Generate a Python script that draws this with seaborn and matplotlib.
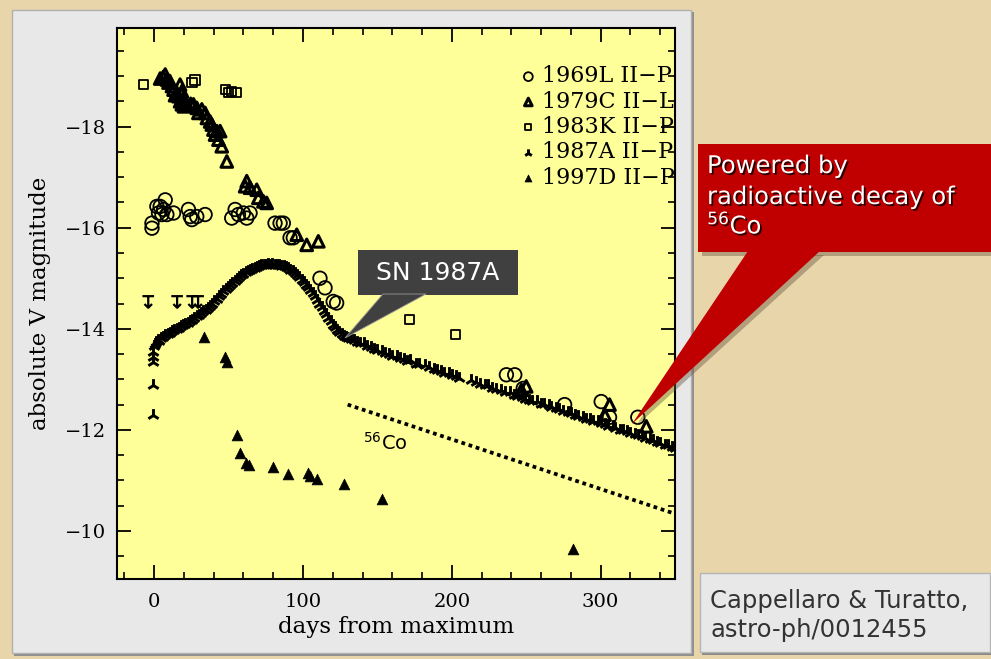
import matplotlib
matplotlib.use("Agg")
import matplotlib.pyplot as plt
import matplotlib.patheffects as pe
from matplotlib.patches import Rectangle, Polygon
from matplotlib.path import Path
from matplotlib.markers import MarkerStyle
from matplotlib.ticker import MultipleLocator
import seaborn as sns

# ---- light curves: days from maximum, absolute V magnitude ----
sn1969l_days = [-1.5, -1.5, 1.8, 4.0, 6.3, 7.4, 2.9, 5.2, 8.5, 13.0, 23.0, 24.2, 25.3, 28.6,
                34.2, 52.1, 54.4, 56.6, 59.9, 62.2, 64.4, 81.2, 84.6, 86.8, 91.3, 93.5,
                111.4, 114.8, 120.3, 122.6, 236.7, 242.3, 248.0, 275.8, 300.4, 306.0, 325.0]
sn1969l_mag = [-16.09, -15.99, -16.42, -16.42, -16.36, -16.55, -16.29, -16.26, -16.26, -16.29,
               -16.36, -16.22, -16.16, -16.22, -16.26, -16.19, -16.36, -16.26, -16.29, -16.19,
               -16.29, -16.09, -16.09, -16.09, -15.80, -15.80, -15.00, -14.81, -14.54, -14.51,
               -13.09, -13.09, -12.82, -12.50, -12.56, -12.25, -12.25]

sn1979c_days = [4.0, 6.0, 7.4, 8.5, 9.6, 10.5, 11.9, 13.0, 14.0, 15.2, 16.3, 17.4, 17.4, 18.6,
                18.6, 19.5, 20.0, 21.0, 22.5, 24.5, 26.4, 28.6, 29.7, 32.0, 34.2, 35.4, 37.6,
                38.7, 39.8, 40.9, 42.1, 43.2, 44.3, 45.4, 48.8, 61.1, 62.2, 64.4, 68.9, 70.0,
                73.4, 75.6, 95.8, 102.5, 110.3, 246.8, 250.0, 302.7, 306.0, 330.7]
sn1979c_mag = [-18.95, -18.98, -19.03, -18.93, -18.87, -18.90, -18.80, -18.73, -18.62, -18.67,
               -18.60, -18.83, -18.50, -18.70, -18.44, -18.55, -18.40, -18.45, -18.42, -18.45,
               -18.44, -18.37, -18.27, -18.34, -18.27, -18.17, -18.10, -18.04, -17.94, -17.84,
               -17.91, -17.74, -17.91, -17.61, -17.31, -16.82, -16.92, -16.79, -16.75, -16.59,
               -16.52, -16.49, -15.86, -15.66, -15.73, -12.79, -12.86, -12.30, -12.50, -12.07]

sn1983k_days = [-7.2, 25.3, 27.5, 47.7, 49.9, 52.1, 55.0, 171.8, 202.7]
sn1983k_mag = [-18.83, -18.87, -18.92, -18.73, -18.67, -18.70, -18.67, -14.18, -13.88]

sn1987a_days = [-1.0, -1.0, -0.8, -1.0, -0.5, 0.0, 0.8, 1.5, 2.5, 3.5, 4.5, 6.0, 7.5, 9.0,
                10.5, 12.0, 13.5, 15.0, 16.5, 18.0, 19.5, 21.0, 22.5, 24.0, 25.5, 27.0, 28.5,
                30.0, 31.5, 33.0, 34.5, 36.0, 37.5, 39.0, 40.5, 42.0, 43.5, 45.0, 46.5, 48.0,
                49.5, 51.0, 52.5, 54.0, 55.5, 57.0, 58.5, 60.0, 61.5, 63.0, 64.5, 66.0, 67.5,
                69.0, 70.5, 72.0, 73.5, 75.0, 76.5, 78.0, 79.5, 81.0, 82.5, 84.0, 85.5, 87.0,
                88.5, 90.0, 91.5, 93.0, 94.5, 96.0, 97.5, 99.0, 100.5, 102.0, 103.5, 105.0,
                106.5, 108.0, 109.5, 111.0, 112.5, 114.0, 115.5, 117.0, 118.5, 120.0, 121.5,
                123.0, 124.5, 126.0, 127.5, 129.0, 130.5, 132.0,
                134, 136, 138, 141, 143, 146, 148, 150, 153, 155, 158, 160, 163, 165, 168, 170,
                172, 176, 178, 182, 185, 188, 190, 193, 195, 198, 200, 203, 205, 213, 216, 219,
                222, 224, 227, 230, 233, 236, 239, 242, 244, 247, 249, 252, 254, 257, 260, 262,
                265, 267, 270, 272, 275, 278, 280, 283, 285, 288, 290, 293, 295, 298, 300, 303,
                305, 308, 310, 313, 315, 318, 320, 323, 325, 328, 330, 333, 335, 338, 340, 343,
                345, 348, 350]
sn1987a_mag = [-12.30, -12.89, -13.35, -13.45, -13.55, -13.65, -13.70, -13.74, -13.78, -13.76,
               -13.82, -13.84, -13.87, -13.90, -13.92, -13.95, -13.97, -14.00, -14.02, -14.05,
               -14.08, -14.10, -14.12, -14.16, -14.18, -14.22, -14.25, -14.28, -14.31, -14.35,
               -14.38, -14.42, -14.46, -14.50, -14.55, -14.59, -14.64, -14.68, -14.74, -14.78,
               -14.83, -14.87, -14.91, -14.95, -14.99, -15.03, -15.06, -15.09, -15.12, -15.14,
               -15.17, -15.19, -15.20, -15.22, -15.24, -15.26, -15.27, -15.26, -15.28, -15.27,
               -15.28, -15.27, -15.26, -15.26, -15.25, -15.24, -15.22, -15.20, -15.17, -15.14,
               -15.10, -15.06, -15.02, -14.97, -14.92, -14.87, -14.82, -14.76, -14.70, -14.64,
               -14.57, -14.50, -14.43, -14.36, -14.29, -14.22, -14.15, -14.08, -14.03, -13.97,
               -13.93, -13.89, -13.86, -13.84, -13.82, -13.80,
               -13.78, -13.74, -13.72, -13.71, -13.66, -13.64, -13.60, -13.59, -13.57, -13.52,
               -13.50, -13.47, -13.46, -13.42, -13.40, -13.37, -13.38, -13.31, -13.30, -13.28,
               -13.24, -13.20, -13.19, -13.17, -13.13, -13.12, -13.08, -13.06, -13.03, -12.98,
               -12.95, -12.91, -12.88, -12.88, -12.83, -12.81, -12.79, -12.75, -12.74, -12.69,
               -12.68, -12.66, -12.62, -12.60, -12.58, -12.57, -12.52, -12.51, -12.49, -12.45,
               -12.43, -12.42, -12.37, -12.35, -12.34, -12.29, -12.28, -12.26, -12.22, -12.21,
               -12.18, -12.17, -12.13, -12.12, -12.08, -12.07, -12.04, -12.00, -11.99, -11.97,
               -11.93, -11.92, -11.89, -11.87, -11.83, -11.81, -11.79, -11.76, -11.75, -11.71,
               -11.70, -11.66, -11.64]

sn1997d_days = [33.8, 47.7, 48.8, 55.5, 57.7, 61.5, 63.8, 80.1, 89.7, 103.6, 104.7, 109.2,
                127.7, 152.8, 281.2]
sn1997d_mag = [-13.84, -13.45, -13.35, -11.90, -11.54, -11.34, -11.31, -11.26, -11.13, -11.14,
               -11.08, -11.03, -10.93, -10.63, -9.64]

limit_days = [-4.0, 15.4, 25.5, 29.5]
limit_mag = [-14.53, -14.53, -14.53, -14.53]

# 56Co decay slope
co_days = [130, 350]
co_mag = [-12.50, -10.34]

series_labels = ["1969L II\u2212P", "1979C II\u2212L", "1983K II\u2212P",
                 "1987A II\u2212P", "1997D II\u2212P"]

# ---- figure ----
sns.set_theme(style="ticks")
plt.rcParams["font.family"] = ["DejaVu Serif"]
plt.rcParams["axes.unicode_minus"] = True
plt.rcParams["text.color"] = "black"
plt.rcParams["axes.labelcolor"] = "black"
plt.rcParams["xtick.color"] = "black"
plt.rcParams["ytick.color"] = "black"

W, H = 991, 659
fig = plt.figure(figsize=(W / 100, H / 100), dpi=100)
fig.patch.set_facecolor("#E9D5AA")


def fx(x):
    return x / W


def fy(y):
    return 1 - y / H


def frect(x0, y0, x1, y1, **kw):
    r = Rectangle((fx(x0), fy(y1)), fx(x1) - fx(x0), fy(y0) - fy(y1),
                  transform=fig.transFigure, **kw)
    fig.patches.append(r)
    return r


def fpoly(pts, **kw):
    p = Polygon([(fx(a), fy(b)) for a, b in pts], closed=True,
                transform=fig.transFigure, **kw)
    fig.patches.append(p)
    return p


# slide panel behind the plot
frect(14, 12, 694, 656, facecolor="#8f8f8f", edgecolor="none", zorder=-2)
frect(12, 10, 691, 653, facecolor="#E8E8E8", edgecolor="#b0b0b0", lw=1, zorder=-1)

ax = fig.add_axes([fx(117), fy(579), fx(675) - fx(117), fy(28) - fy(579)])
ax.set_facecolor("#FFFF99")

# upper-limit marker: bar with a downward arrow
limit_path = Path([(-1, 1), (1, 1), (0, 1), (0, -1), (-0.65, -0.35), (0, -1), (0.65, -0.35)],
                  [Path.MOVETO, Path.LINETO, Path.MOVETO, Path.LINETO,
                   Path.MOVETO, Path.LINETO, Path.LINETO])

sns.scatterplot(x=sn1969l_days, y=sn1969l_mag, ax=ax, marker="o", s=95,
                facecolors="none", edgecolor="black", linewidth=1.3, label=series_labels[0])
sns.scatterplot(x=sn1979c_days, y=sn1979c_mag, ax=ax, marker="^", s=70,
                facecolors="none", edgecolor="black", linewidth=2.2, label=series_labels[1])
sns.scatterplot(x=sn1983k_days, y=sn1983k_mag, ax=ax, marker="s", s=45,
                facecolors="none", edgecolor="black", linewidth=1.3, label=series_labels[2])
sns.scatterplot(x=sn1987a_days, y=sn1987a_mag, ax=ax, marker="2", s=85,
                color="black", linewidth=2.1, label=series_labels[3])
sns.scatterplot(x=sn1997d_days, y=sn1997d_mag, ax=ax, marker="^", s=60,
                color="black", edgecolor="black", linewidth=0.5, label=series_labels[4])
sns.scatterplot(x=limit_days, y=limit_mag, ax=ax, marker=MarkerStyle(limit_path), s=70,
                facecolors="none", edgecolor="black", linewidth=1.6, legend=False)

sns.lineplot(x=co_days, y=co_mag, ax=ax, color="black", linewidth=2.7,
             linestyle=(0, (1.0, 1.0)), legend=False)
ax.text(140, -11.75, r"$^{56}$Co", fontsize=14, family="DejaVu Sans",
        ha="left", va="center", color="black")

ax.set_xlim(-25, 350)
ax.set_ylim(-9.05, -19.95)
ax.xaxis.set_major_locator(MultipleLocator(100))
ax.xaxis.set_minor_locator(MultipleLocator(20))
ax.yaxis.set_major_locator(MultipleLocator(2))
ax.yaxis.set_minor_locator(MultipleLocator(0.5))
ax.tick_params(which="both", direction="in", top=True, right=True, colors="black",
               labelcolor="black", labelsize=14)
ax.tick_params(which="major", length=10, width=1.3)
ax.tick_params(which="minor", length=5, width=1.2)
ax.tick_params(axis="x", pad=10)
ax.tick_params(axis="y", pad=8)
for sp in ax.spines.values():
    sp.set_linewidth(1.5)
    sp.set_color("black")
ax.set_xlabel("days from maximum", fontsize=16.5, labelpad=4, color="black")
ax.set_ylabel("absolute V magnitude", fontsize=16.5, labelpad=10, color="black")

leg = ax.legend(loc="upper right", bbox_to_anchor=(0.999, 0.932), frameon=False,
                fontsize=16, markerscale=0.65, handletextpad=0.1, handlelength=1.0,
                labelspacing=0.15, borderpad=0, borderaxespad=0, labelcolor="black")

# SN 1987A callout
frect(358, 250, 518, 295, facecolor="#404040", edgecolor="none", zorder=5)
fpoly([(383, 294), (426, 294), (345, 338)], facecolor="#404040", edgecolor="#9a9a9a",
      lw=0.6, zorder=5)
fig.text(fx(438), fy(273), "SN 1987A", color="white", fontsize=18, family="DejaVu Sans",
         ha="center", va="center", zorder=6)

# 56Co callout
frect(702, 148, 994, 256, facecolor="#6b5d46", edgecolor="none", alpha=0.45, zorder=5)
fpoly([(752, 255), (824, 255), (635, 427)], facecolor="#6b5d46", edgecolor="none",
      alpha=0.45, zorder=5)
frect(698, 144, 991, 252, facecolor="#C00000", edgecolor="none", zorder=6)
fpoly([(748, 251), (820, 251), (632, 424)], facecolor="#C00000", edgecolor="none", zorder=6)
shadow = [pe.withSimplePatchShadow(offset=(1.3, -1.3), shadow_rgbFace="black", alpha=0.8)]
for txt, yy in [("Powered by", 166), ("radioactive decay of", 197), (r"$^{56}$Co", 225)]:
    fig.text(fx(707), fy(yy), txt, color="white", fontsize=17.5, family="DejaVu Sans",
             ha="left", va="center", zorder=7, path_effects=shadow)

# reference box
frect(702, 575, 993, 655, facecolor="#8a8a8a", edgecolor="none", zorder=5)
frect(700, 573, 990, 652, facecolor="#E8E8E8", edgecolor="#b5b5b5", lw=1, zorder=6)
for txt, yy in [("Cappellaro & Turatto,", 601), ("astro-ph/0012455", 630)]:
    fig.text(fx(710), fy(yy), txt, color="#333333", fontsize=17.5, family="DejaVu Sans",
             ha="left", va="center", zorder=7)

fig.savefig("out.png", dpi=100, facecolor=fig.get_facecolor())
